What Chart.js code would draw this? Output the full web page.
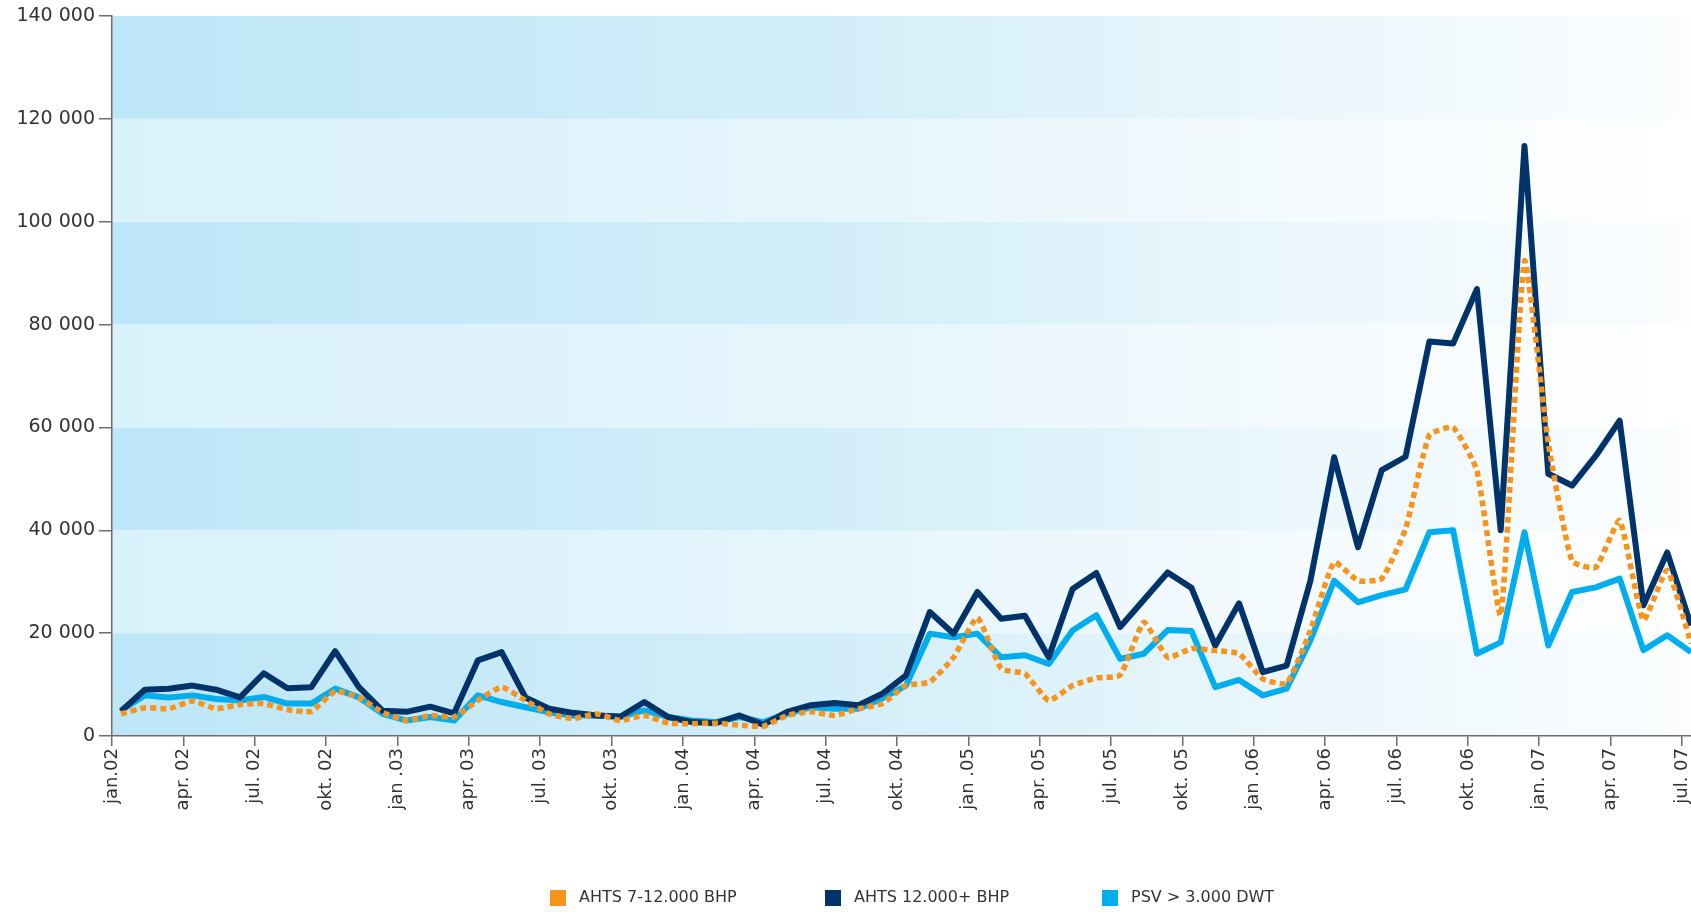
<!DOCTYPE html>
<html>
<head>
<meta charset="utf-8">
<script src="https://cdn.jsdelivr.net/npm/chart.js@4.4.1/dist/chart.umd.min.js"></script>
<style>
  html, body { margin: 0; padding: 0; background: #fff; overflow: hidden; }
</style>
</head>
<body>
<canvas id="rates" width="1691" height="912"></canvas>
<script>
// tick labels, one every third month (jan.02 .. jul.07)
var tickLabels = ['jan.02', 'apr. 02', 'jul. 02', 'okt. 02', 'jan .03', 'apr. 03', 'jul. 03', 'okt. 03',
  'jan .04', 'apr. 04', 'jul. 04', 'okt. 04', 'jan .05', 'apr. 05', 'jul. 05', 'okt. 05',
  'jan .06', 'apr. 06', 'jul. 06', 'okt. 06', 'jan. 07', 'apr. 07', 'jul. 07'];

var seriesNames = ['AHTS 7-12.000 BHP', 'AHTS 12.000+ BHP', 'PSV > 3.000 DWT'];

// monthly values, jan.02 .. jul.07
var ahtsSmall = [4300, 5500, 5300, 6800, 5300, 6100, 6300, 5100, 4800, 8700, 7500, 4600,
  3000, 4000, 3700, 6900, 9500, 6900, 4300, 3400, 4300, 3000, 4000, 2500,
  2400, 2500, 2100, 1900, 4000, 4700, 4000, 5300, 6300, 9800, 10500, 15300,
  23000, 13100, 12100, 6900, 9800, 11300, 11800, 22100, 15300, 17000, 16600, 16000,
  11100, 10200, 20500, 33800, 30200, 30600, 40300, 58500, 60000, 51600, 23500, 92400,
  57000, 34000, 32800, 41900, 22500, 32200, 18000];

var ahtsLarge = [4800, 9000, 9200, 9800, 9000, 7500, 12200, 9300, 9500, 16500, 9500, 4900,
  4700, 5700, 4400, 14700, 16300, 7500, 5300, 4500, 4000, 3800, 6600, 3700,
  2700, 2500, 4000, 2200, 4700, 6000, 6400, 6000, 8200, 11800, 24100, 19900,
  28000, 22800, 23400, 15300, 28600, 31700, 21200, 26500, 31800, 28800, 17600, 25800,
  12400, 13700, 30200, 54200, 36700, 51700, 54300, 76700, 76300, 86900, 40000, 114700,
  51000, 48700, 54500, 61300, 25400, 35700, 21500];

var psv = [5000, 7900, 7500, 7900, 7200, 6900, 7600, 6300, 6300, 9200, 7500, 4300,
  3000, 3700, 3000, 7900, 6600, 5600, 4600, 4000, 4000, 3700, 5000, 3700,
  3000, 2700, 3700, 2700, 4300, 5600, 5300, 5300, 7300, 9800, 19900, 19200,
  19900, 15300, 15700, 14000, 20500, 23500, 15000, 16000, 20600, 20400, 9500, 10900,
  7900, 9200, 18600, 30200, 26000, 27400, 28500, 39600, 40000, 16000, 18200, 39600,
  17600, 28000, 28900, 30600, 16700, 19600, 16300];

var yMax = 140000;
var yStep = 20000;

// points sit a little after each month tick
var pointShift = 0.38;

function toPoints(arr) {
  return arr.map(function (v, i) { return { x: i + pointShift, y: v }; });
}

function spaced(v) {
  return String(v).replace(/\B(?=(\d{3})+(?!\d))/g, ' ');
}

// alternating blue bands fading to white towards the right
var bandPlugin = {
  id: 'bands',
  beforeDraw: function (chart) {
    var ctx = chart.ctx, area = chart.chartArea, ys = chart.scales.y;
    ctx.save();
    for (var v = 0, k = 0; v < yMax; v += yStep, k++) {
      var top = ys.getPixelForValue(v + yStep);
      var bot = ys.getPixelForValue(v);
      var g = ctx.createLinearGradient(area.left, 0, area.right, 0);
      if (k % 2 === 0) {
        g.addColorStop(0, '#bde6f7');
        g.addColorStop(0.45, '#d2eef9');
        g.addColorStop(0.75, '#ebf7fc');
        g.addColorStop(1, '#fbfdfe');
      } else {
        g.addColorStop(0, '#d9f1fb');
        g.addColorStop(0.45, '#e5f5fc');
        g.addColorStop(0.75, '#f4fafd');
        g.addColorStop(1, '#ffffff');
      }
      ctx.fillStyle = g;
      ctx.fillRect(area.left, top, area.right - area.left, bot - top);
    }
    ctx.restore();
  }
};

// legend row under the axis labels
var legendPlugin = {
  id: 'rowLegend',
  afterDraw: function (chart) {
    var ctx = chart.ctx;
    var xs = [550, 825, 1102];
    var y = 898;
    ctx.save();
    ctx.font = '16px "DejaVu Sans"';
    ctx.textBaseline = 'middle';
    ctx.textAlign = 'left';
    chart.data.datasets.forEach(function (ds, i) {
      ctx.fillStyle = ds.borderColor;
      ctx.fillRect(xs[i], y - 8, 16, 16);
      ctx.fillStyle = '#333';
      ctx.fillText(ds.label, xs[i] + 29, y);
    });
    ctx.restore();
  }
};

var grafico = document.getElementById('rates');

var myChart = new Chart(grafico, {
  type: 'line',
  data: {
    datasets: [{
      label: seriesNames[0],
      data: toPoints(ahtsSmall),
      borderColor: '#f7941d',
      borderWidth: 5.5,
      borderDash: [6, 4],
      tension: 0.15,
      pointRadius: 0
    }, {
      label: seriesNames[1],
      data: toPoints(ahtsLarge),
      borderColor: '#00336a',
      borderWidth: 6,
      borderJoinStyle: 'round',
      tension: 0,
      pointRadius: 0
    }, {
      label: seriesNames[2],
      data: toPoints(psv),
      borderColor: '#00aeef',
      borderWidth: 6,
      borderJoinStyle: 'round',
      tension: 0,
      pointRadius: 0
    }]
  },
  options: {
    responsive: false,
    animation: false,
    layout: { padding: { top: 16, left: 0, right: 0, bottom: 0 } },
    plugins: {
      legend: { display: false },
      tooltip: { enabled: false }
    },
    scales: {
      x: {
        type: 'linear',
        min: 0,
        max: (tickLabels.length - 1) * 3 + pointShift,
        afterFit: function (s) { s.height = 176; s.paddingLeft = 0; s.paddingRight = 0; },
        border: { color: '#6d6d6d', width: 1.5 },
        grid: { drawOnChartArea: false, color: '#6d6d6d', lineWidth: 1.5, tickLength: 10 },
        ticks: {
          stepSize: 3,
          maxTicksLimit: 40,
          includeBounds: false,
          autoSkip: false,
          maxRotation: 90,
          minRotation: 90,
          padding: 2,
          color: '#333',
          font: { family: 'DejaVu Sans', size: 18 },
          callback: function (v) { return tickLabels[Math.round(v / 3)]; }
        }
      },
      y: {
        min: 0,
        max: yMax,
        afterFit: function (s) { s.width = 112; },
        border: { color: '#6d6d6d', width: 1.5 },
        grid: { drawOnChartArea: false, color: '#6d6d6d', lineWidth: 1.5, tickLength: 13 },
        ticks: {
          stepSize: yStep,
          padding: 4,
          color: '#333',
          font: { family: 'DejaVu Sans', size: 19 },
          callback: function (v) { return spaced(v); }
        }
      }
    }
  },
  plugins: [bandPlugin, legendPlugin]
});
</script>
</body>
</html>
